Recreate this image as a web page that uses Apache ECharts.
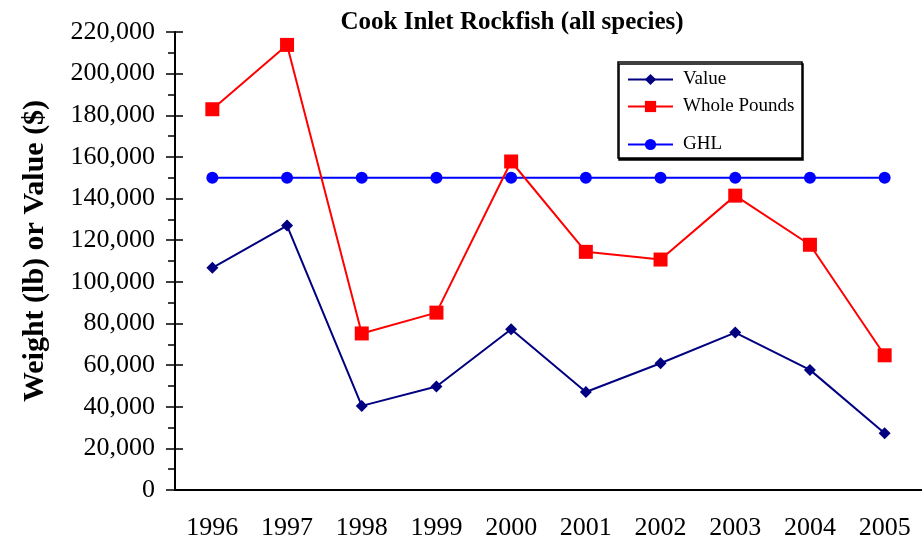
<!DOCTYPE html>
<html>
<head>
<meta charset="utf-8">
<script src="https://cdn.jsdelivr.net/npm/echarts@6/dist/echarts.min.js"></script>
<style>
html, body { margin: 0; padding: 0; background: #fff; }
#main { width: 922px; height: 541px; }
</style>
</head>
<body>
<div id="main"></div>
<script>
var years = ['1996', '1997', '1998', '1999', '2000', '2001', '2002', '2003', '2004', '2005'];
var valueDollars = [106700, 127000, 40400, 49700, 77200, 47100, 60900, 75600, 57700, 27300];
var wholePounds = [182900, 213800, 75200, 85200, 157800, 114400, 110700, 141400, 117800, 64700];
var ghl = [150000, 150000, 150000, 150000, 150000, 150000, 150000, 150000, 150000, 150000];

var serif = 'Liberation Serif';
var chart = echarts.init(document.getElementById('main'));

function legendAt(name, top) {
    return {
        data: [name],
        left: 627,
        top: top,
        padding: 0,
        itemWidth: 45,
        itemHeight: 14,
        selectedMode: false,
        textStyle: { fontFamily: serif, fontSize: 19, color: '#000', padding: [0, 0, 0, 5] }
    };
}

var option = {
    animation: false,
    title: {
        text: 'Cook Inlet Rockfish (all species)',
        left: 507,
        top: 5,
        textAlign: 'center',
        textStyle: { fontFamily: serif, fontSize: 25, fontWeight: 'bold', color: '#000' }
    },
    graphic: [{
        type: 'rect',
        shape: { x: 618, y: 62, width: 184, height: 96 },
        style: { fill: '#fff', stroke: '#000', lineWidth: 1.5, shadowColor: '#000', shadowOffsetX: 1, shadowOffsetY: 2, shadowBlur: 0 },
        z: 0
    }, {
        type: 'text',
        x: 35,
        y: 251,
        rotation: Math.PI / 2,
        style: {
            text: 'Weight (lb) or Value ($)',
            fontFamily: serif,
            fontSize: 30,
            fontWeight: 'bold',
            fill: '#000',
            align: 'center',
            verticalAlign: 'middle'
        }
    }],
    legend: [legendAt('Value', 70), legendAt('Whole Pounds', 97), legendAt('GHL', 135)],
    grid: { left: 175, right: -1, top: 32, bottom: 50 },
    xAxis: {
        type: 'category',
        data: years,
        boundaryGap: true,
        axisLine: { lineStyle: { color: '#000', width: 2 } },
        axisTick: { length: 9, lineStyle: { color: '#000', width: 1.5 } },
        axisLabel: { fontFamily: serif, fontSize: 26, color: '#000', margin: 25 }
    },
    yAxis: [{
        type: 'value',
        min: 0,
        max: 220000,
        interval: 20000,
        axisLine: { show: true, lineStyle: { color: '#000', width: 2 } },
        axisTick: { show: true, length: 9, lineStyle: { color: '#000', width: 1.5 } },
        minorTick: { show: true, splitNumber: 2, length: 7, lineStyle: { color: '#000', width: 1.5 } },
        splitLine: { show: false },
        axisLabel: {
            fontFamily: serif, fontSize: 26, color: '#000', margin: 20,
            formatter: function (v) { return v.toLocaleString('en-US'); }
        }
    }, {
        type: 'value',
        position: 'left',
        min: 0,
        max: 220000,
        interval: 20000,
        axisLine: { show: false },
        axisTick: { show: true, inside: true, length: 8, lineStyle: { color: '#000', width: 1.5 } },
        splitLine: { show: false },
        axisLabel: { show: false }
    }],
    series: [{
        name: 'Value',
        type: 'line',
        data: valueDollars,
        symbol: 'diamond',
        symbolSize: 12,
        lineStyle: { color: '#000080', width: 2 },
        itemStyle: { color: '#000080' },
        z: 3
    }, {
        name: 'Whole Pounds',
        type: 'line',
        data: wholePounds,
        symbol: 'rect',
        symbolSize: 14,
        lineStyle: { color: '#ff0000', width: 2 },
        itemStyle: { color: '#ff0000' },
        z: 4
    }, {
        name: 'GHL',
        type: 'line',
        data: ghl,
        symbol: 'circle',
        symbolSize: 12,
        lineStyle: { color: '#0000ff', width: 2 },
        itemStyle: { color: '#0000ff' },
        z: 2
    }]
};
chart.setOption(option);
window.addEventListener('resize', function () {
    chart.resize();
});
</script>
</body>
</html>
